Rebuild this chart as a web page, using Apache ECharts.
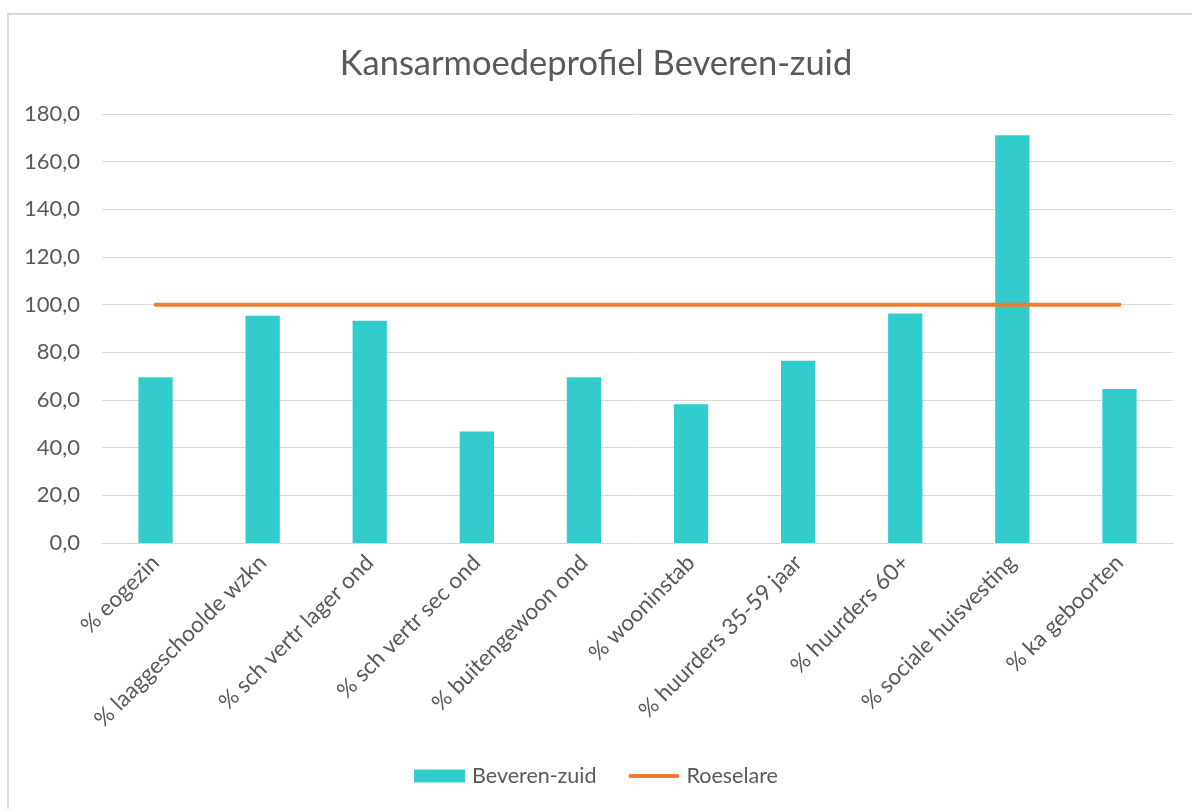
<!DOCTYPE html>
<html>
<head>
<meta charset="utf-8">
<script src="https://cdn.jsdelivr.net/npm/echarts@6/dist/echarts.min.js"></script>
<style>
html,body{margin:0;padding:0;background:#fff;}
#chart{width:1192px;height:809px;}
</style>
</head>
<body>
<div id="chart"></div>
<script>
const categories = ['% eogezin','% laaggeschoolde wzkn','% sch vertr lager ond','% sch vertr sec ond','% buitengewoon ond','% wooninstab','% huurders 35-59 jaar','% huurders 60+','% sociale huisvesting','% ka geboorten'];
const beverenZuid = [69.5, 95.3, 93.2, 46.8, 69.5, 58.2, 76.5, 96.3, 171.1, 64.6];
const roeselare = [100, 100, 100, 100, 100, 100, 100, 100, 100, 100];
const yTicks = {min: 0, max: 180, interval: 20};

const chart = echarts.init(document.getElementById('chart'));
const font = 'Lato, "Open Sans", sans-serif';
chart.setOption({
  animation: false,
  textStyle: {fontFamily: font},
  graphic: [{
    type: 'rect', silent: true, z: -1,
    shape: {x: 8, y: 14, width: 1400, height: 1000},
    style: {fill: 'none', stroke: '#d9d9d9', lineWidth: 2}
  }],
  title: {
    text: 'Kansarmoedeprofiel Beveren-zuid',
    left: 'center', top: 41,
    textStyle: {fontFamily: font, fontSize: 34.5, fontWeight: 'normal', color: '#595959'}
  },
  legend: {
    bottom: 17, left: 'center',
    itemGap: 32, itemWidth: 51, itemHeight: 13,
    textStyle: {fontFamily: font, fontSize: 21.5, color: '#595959', padding: [0, 0, 0, 2]},
    data: [
      {name: 'Beveren-zuid', icon: 'rect'},
      {name: 'Roeselare', icon: 'path://M2,0 L49,0 A2,2 0 0 1 49,4 L2,4 A2,2 0 0 1 2,0 Z'}
    ]
  },
  grid: {left: 102, right: 19, top: 114, bottom: 266, containLabel: false},
  xAxis: {
    type: 'category',
    data: categories,
    axisLine: {lineStyle: {color: '#d9d9d9', width: 1}},
    axisTick: {show: false},
    axisLabel: {rotate: 45, fontSize: 22.5, color: '#595959', margin: 16, interval: 0, fontFamily: font}
  },
  yAxis: {
    type: 'value',
    min: yTicks.min, max: yTicks.max, interval: yTicks.interval,
    axisLine: {show: false},
    axisTick: {show: false},
    splitLine: {lineStyle: {color: '#d9d9d9', width: 1}},
    axisLabel: {
      fontSize: 22, color: '#595959', margin: 22, fontFamily: font,
      formatter: v => v.toFixed(1).replace('.', ',')
    }
  },
  series: [
    {
      name: 'Beveren-zuid', type: 'bar', data: beverenZuid,
      barWidth: '32%',
      itemStyle: {color: '#33CCCC'}
    },
    {
      name: 'Roeselare', type: 'line', data: roeselare,
      symbol: 'none',
      lineStyle: {color: '#ED7D31', width: 4, cap: 'round'},
      itemStyle: {color: '#ED7D31'}
    }
  ]
});
</script>
</body>
</html>
